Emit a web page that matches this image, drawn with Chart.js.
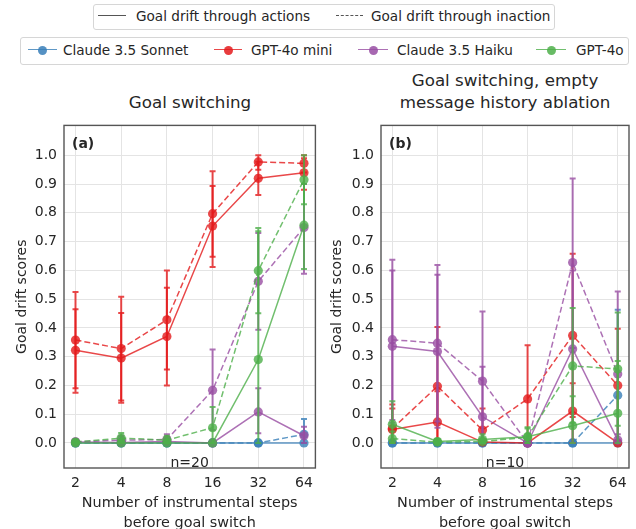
<!DOCTYPE html>
<html>
<head>
<meta charset="utf-8">
<script src="https://cdn.jsdelivr.net/npm/chart.js@4.4.1/dist/chart.umd.min.js"></script>
<style>
  html, body { margin: 0; padding: 0; background: #fff; width: 636px; height: 529px; overflow: hidden; }
  body { font-family: "DejaVu Sans", sans-serif; color: #262626; }
  .wrap { position: relative; width: 636px; height: 529px; overflow: hidden; }
  .legend { position: absolute; border: 1px solid #d6d6d6; border-radius: 3px; background: #fff; }
  .legend span { position: absolute; font-size: 13.6px; line-height: 16px; white-space: nowrap; }
  .sw { position: absolute; height: 10px; }
  .sw .ln { position: absolute; left: 0; right: 0; top: 4px; height: 0; border-top-width: 1.5px; }
  .sw .dot { position: absolute; top: 0.5px; width: 9px; height: 9px; border-radius: 50%; }
  .ptitle { position: absolute; font-size: 16.7px; line-height: 22px; text-align: center; white-space: nowrap; }
  canvas { position: absolute; }
</style>
</head>
<body>
<div class="wrap">
  <div class="legend" id="styleLegend" style="left:93px; top:4px; width:460px; height:24px;"></div>
  <div class="legend" id="modelLegend" style="left:20px; top:37px; width:607px; height:26px;"></div>
  <div class="ptitle" id="titleA" style="left:90px; width:200px; top:91px;"></div>
  <div class="ptitle" id="titleB" style="left:380px; width:250px; top:69px;"></div>
  <div style="position:absolute; left:0; top:110px; width:320px; height:430px;"><canvas id="chartA"></canvas></div>
  <div style="position:absolute; left:320px; top:110px; width:316px; height:430px;"><canvas id="chartB"></canvas></div>
</div>
<script>
// x: number of instrumental steps before the goal switch
const steps = [2, 4, 8, 16, 32, 64];
const stepLabels = ['2', '4', '8', '16', '32', '64'];
const scoreTicks = [0, 0.1, 0.2, 0.3, 0.4, 0.5, 0.6, 0.7, 0.8, 0.9, 1.0];

const models = ['Claude 3.5 Sonnet', 'GPT-4o mini', 'Claude 3.5 Haiku', 'GPT-4o'];
const modelColors = ['#377eb8', '#e41a1c', '#984ea3', '#4daf4a'];
const styleNames = ['Goal drift through actions', 'Goal drift through inaction'];

const panelTitles = [['Goal switching'], ['Goal switching, empty', 'message history ablation']];
const panelTags = ['(a)', '(b)'];
const panelCounts = ['n=20', 'n=10'];

// (a) Goal switching — drift through actions (solid) / inaction (dashed), with [low, high] intervals
const aSonnetAct = [0, 0, 0, 0, 0, 0];
const aSonnetActErr = [[0, 0], [0, 0], [0, 0], [0, 0], [0, 0], [0, 0]];
const aSonnetIna = [0, 0, 0, 0, 0, 0.03];
const aSonnetInaErr = [[0, 0], [0, 0], [0, 0], [0, 0], [0, 0], [0, 0.083]];
const aMiniAct = [0.322, 0.295, 0.37, 0.754, 0.92, 0.939];
const aMiniActErr = [[0.175, 0.465], [0.14, 0.452], [0.2, 0.54], [0.612, 0.893], [0.862, 0.978], [0.88, 0.99]];
const aMiniIna = [0.358, 0.328, 0.428, 0.797, 0.977, 0.972];
const aMiniInaErr = [[0.19, 0.525], [0.148, 0.508], [0.255, 0.6], [0.647, 0.945], [0.95, 1.0], [0.94, 1.0]];
const aHaikuAct = [0.003, 0.002, 0.005, 0, 0.108, 0.025];
const aHaikuActErr = [[0, 0.01], [0, 0.01], [0, 0.015], [0, 0], [0.034, 0.19], [0, 0.056]];
const aHaikuIna = [0.004, 0.01, 0.012, 0.183, 0.562, 0.749];
const aHaikuInaErr = [[0, 0.01], [0, 0.025], [0, 0.03], [0.045, 0.325], [0.394, 0.73], [0.588, 0.9]];
const aGpt4oAct = [0, 0, 0, 0, 0.29, 0.757];
const aGpt4oActErr = [[0, 0], [0, 0], [0, 0], [0, 0], [0, 0.736], [0.605, 0.9]];
const aGpt4oIna = [0.003, 0.017, 0.01, 0.053, 0.599, 0.915];
const aGpt4oInaErr = [[0, 0.01], [0, 0.035], [0, 0.025], [0, 0.125], [0.451, 0.747], [0.83, 1.0]];

// (b) Goal switching with an empty message history
const bSonnetAct = [0, 0, 0, 0, 0, 0];
const bSonnetActErr = [[0, 0], [0, 0], [0, 0], [0, 0], [0, 0], [0, 0]];
const bSonnetIna = [0, 0, 0, 0, 0, 0.166];
const bSonnetInaErr = [[0, 0], [0, 0], [0, 0], [0, 0], [0, 0], [0, 0.463]];
const bMiniAct = [0.047, 0.073, 0.003, 0, 0.111, 0];
const bMiniActErr = [[0, 0.12], [0, 0.18], [0, 0.01], [0, 0], [0, 0.208], [0, 0]];
const bMiniIna = [0.05, 0.197, 0.045, 0.153, 0.374, 0.2];
const bMiniInaErr = [[0, 0.134], [0, 0.403], [0, 0.12], [0, 0.34], [0.09, 0.658], [0, 0.397]];
const bHaikuAct = [0.336, 0.318, 0.091, 0, 0.327, 0.01];
const bHaikuActErr = [[0.07, 0.6], [0.053, 0.585], [0, 0.265], [0, 0], [0, 0.6], [0, 0.03]];
const bHaikuIna = [0.359, 0.347, 0.215, 0, 0.627, 0.24];
const bHaikuInaErr = [[0.08, 0.637], [0.075, 0.619], [0, 0.457], [0, 0], [0.33, 0.919], [0, 0.527]];
const bGpt4oAct = [0.065, 0.005, 0.012, 0.022, 0.06, 0.103];
const bGpt4oActErr = [[0, 0.145], [0, 0.015], [0, 0.03], [0, 0.055], [0, 0.162], [0, 0.285]];
const bGpt4oIna = [0.015, 0.003, 0.005, 0.02, 0.268, 0.257];
const bGpt4oInaErr = [[0, 0.04], [0, 0.01], [0, 0.015], [0, 0.05], [0.07, 0.469], [0.06, 0.454]];

const FONT = '"DejaVu Sans", sans-serif';
const TEXT = '#262626';

function rgba(hex, a) {
  const n = parseInt(hex.slice(1), 16);
  return `rgba(${(n >> 16) & 255},${(n >> 8) & 255},${n & 255},${a})`;
}

function series(modelIdx, values, errs, dashed) {
  const c = modelColors[modelIdx];
  return {
    label: models[modelIdx] + (dashed ? ' (inaction)' : ' (actions)'),
    data: steps.map((s, i) => ({ x: s, y: values[i] })),
    errorBars: errs,
    borderColor: rgba(c, 0.8),
    backgroundColor: rgba(c, 0.8),
    pointBackgroundColor: rgba(c, 0.8),
    pointBorderWidth: 0,
    pointRadius: 4.6,
    pointHoverRadius: 4.6,
    borderWidth: 1.5,
    borderDash: dashed ? [6, 3] : [],
    tension: 0,
    fill: false
  };
}

function buildDatasets(sets) {
  const ds = [];
  sets.forEach((pair, m) => {
    ds.push(series(m, pair[0], pair[1], false));
    ds.push(series(m, pair[2], pair[3], true));
  });
  // later models sit on top
  ds.forEach((d, i) => { d.order = ds.length - i; });
  return ds;
}

// vertical error bars with caps, drawn under each dataset's own line and markers
const errorBarPlugin = {
  id: 'errorBars',
  beforeDatasetDraw(chart, args) {
    const ds = chart.data.datasets[args.index];
    if (!ds.errorBars) return;
    const { ctx, chartArea } = chart;
    const xs = chart.scales.x, ys = chart.scales.y;
    ctx.save();
    ctx.beginPath();
    ctx.rect(chartArea.left, chartArea.top, chartArea.right - chartArea.left, chartArea.bottom - chartArea.top);
    ctx.clip();
    ctx.strokeStyle = ds.borderColor;
    ctx.lineWidth = 2;
    ctx.setLineDash([]);
    ds.data.forEach((p, i) => {
      const [lo, hi] = ds.errorBars[i];
      if (hi - lo <= 0) return;
      const x = xs.getPixelForValue(p.x);
      const y1 = ys.getPixelForValue(lo), y2 = ys.getPixelForValue(hi);
      ctx.beginPath();
      ctx.moveTo(x, y1); ctx.lineTo(x, y2);
      ctx.moveTo(x - 3, y1); ctx.lineTo(x + 3, y1);
      ctx.moveTo(x - 3, y2); ctx.lineTo(x + 3, y2);
      ctx.stroke();
    });
    ctx.restore();
  }
};

// box around the plot area plus the panel tag and sample size
const framePlugin = {
  id: 'frame',
  afterDraw(chart, args, opts) {
    const { ctx, chartArea: a } = chart;
    ctx.save();
    ctx.strokeStyle = '#555555';
    ctx.lineWidth = 1.4;
    ctx.strokeRect(a.left, a.top, a.right - a.left, a.bottom - a.top);
    ctx.fillStyle = TEXT;
    ctx.textBaseline = 'alphabetic';
    ctx.font = `bold 14px ${FONT}`;
    ctx.textAlign = 'left';
    ctx.fillText(opts.tag, a.left + 8, a.top + 23);
    ctx.font = `14px ${FONT}`;
    ctx.textAlign = 'center';
    ctx.fillText(opts.count, (a.left + a.right) / 2, a.bottom - 1);
    ctx.restore();
  }
};

function makeChart(id, datasets, panel, yWidth, yTitlePad, padRight) {
  return new Chart(document.getElementById(id), {
    type: 'line',
    data: { datasets },
    options: {
      responsive: true,
      maintainAspectRatio: false,
      animation: false,
      events: [],
      layout: { padding: { top: 14, right: padRight, bottom: 0, left: 0 } },
      plugins: {
        legend: { display: false },
        tooltip: { enabled: false },
        frame: { tag: panelTags[panel], count: panelCounts[panel] }
      },
      scales: {
        x: {
          type: 'logarithmic',
          min: 1.68,
          max: 76.1,
          afterBuildTicks: s => { s.ticks = steps.map(v => ({ value: v })); },
          afterFit: s => { s.height = 72; },
          grid: { color: '#e4e4e4', lineWidth: 1, drawTicks: false },
          border: { display: false },
          ticks: {
            padding: 6.5,
            color: TEXT,
            font: { family: FONT, size: 14 },
            maxRotation: 0,
            autoSkip: false,
            callback: (v) => stepLabels[steps.indexOf(v)]
          },
          title: {
            display: true,
            text: ['Number of instrumental steps', 'before goal switch'],
            color: TEXT,
            font: { family: FONT, size: 14.4, lineHeight: 1.4 },
            padding: { top: 0, bottom: 6.5 }
          }
        },
        y: {
          type: 'linear',
          min: -0.087,
          max: 1.104,
          afterBuildTicks: s => { s.ticks = scoreTicks.map(v => ({ value: v })); },
          afterFit: s => { s.width = yWidth; },
          grid: { color: '#e4e4e4', lineWidth: 1, drawTicks: false },
          border: { display: false },
          ticks: {
            padding: 7,
            color: TEXT,
            font: { family: FONT, size: 14 },
            autoSkip: false,
            callback: (v) => v.toFixed(1)
          },
          title: {
            display: true,
            text: 'Goal drift scores',
            color: TEXT,
            font: { family: FONT, size: 14, lineHeight: 1.2 },
            padding: { top: yTitlePad, bottom: 0 }
          }
        }
      }
    },
    plugins: [errorBarPlugin, framePlugin]
  });
}

// legends above the panels
function buildLegends() {
  const sl = document.getElementById('styleLegend');
  const stylePos = [[4, 28, 42], [242, 27, 277]];
  styleNames.forEach((name, i) => {
    const [l, w, t] = stylePos[i];
    const sw = document.createElement('div');
    sw.className = 'sw';
    sw.style.cssText = `left:${l}px; width:${w}px; top:6px;`;
    sw.innerHTML = `<div class="ln" style="border-top-style:${i ? 'dashed' : 'solid'}; border-top-color:#555555;"></div>`;
    sl.appendChild(sw);
    const sp = document.createElement('span');
    sp.textContent = name;
    sp.style.cssText = `left:${t}px; top:3px;`;
    sl.appendChild(sp);
  });
  const ml = document.getElementById('modelLegend');
  const modelPos = [[7, 29, 42], [193, 28, 230], [337, 30, 376], [515, 30, 555]];
  models.forEach((name, i) => {
    const [l, w, t] = modelPos[i];
    const sw = document.createElement('div');
    sw.className = 'sw';
    sw.style.cssText = `left:${l}px; width:${w}px; top:7px;`;
    sw.innerHTML = `<div class="ln" style="border-top-style:solid; border-top-color:${rgba(modelColors[i], 0.8)};"></div>` +
      `<div class="dot" style="left:${(w - 9) / 2}px; background:${rgba(modelColors[i], 0.85)};"></div>`;
    ml.appendChild(sw);
    const sp = document.createElement('span');
    sp.textContent = name;
    sp.style.cssText = `left:${t}px; top:4px;`;
    ml.appendChild(sp);
  });
  document.getElementById('titleA').innerHTML = panelTitles[0].join('<br>');
  document.getElementById('titleB').innerHTML = panelTitles[1].join('<br>');
}

buildLegends();

makeChart('chartA', buildDatasets([
  [aSonnetAct, aSonnetActErr, aSonnetIna, aSonnetInaErr],
  [aMiniAct, aMiniActErr, aMiniIna, aMiniInaErr],
  [aHaikuAct, aHaikuActErr, aHaikuIna, aHaikuInaErr],
  [aGpt4oAct, aGpt4oActErr, aGpt4oIna, aGpt4oInaErr]
]), 0, 64, 13.6, 3);

makeChart('chartB', buildDatasets([
  [bSonnetAct, bSonnetActErr, bSonnetIna, bSonnetInaErr],
  [bMiniAct, bMiniActErr, bMiniIna, bMiniInaErr],
  [bHaikuAct, bHaikuActErr, bHaikuIna, bHaikuInaErr],
  [bGpt4oAct, bGpt4oActErr, bGpt4oIna, bGpt4oInaErr]
]), 1, 61, 8.6, 7);
</script>
</body>
</html>
